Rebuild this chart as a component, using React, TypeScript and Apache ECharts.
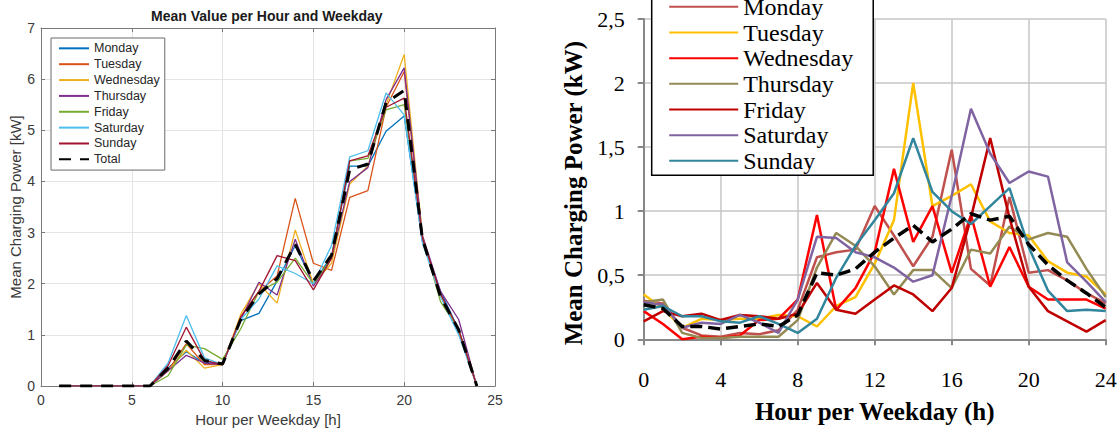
import React, { useEffect, useRef } from "react";
import * as echarts from "echarts";

const dayNames = ["Monday", "Tuesday", "Wednesday", "Thursday", "Friday", "Saturday", "Sunday"];

// Left chart (hours 1..24)
const leftHours = [1, 2, 3, 4, 5, 6, 7, 8, 9, 10, 11, 12, 13, 14, 15, 16, 17, 18, 19, 20, 21, 22, 23, 24];
const leftMonday = [0, 0, 0, 0, 0, 0, 0.35, 0.67, 0.45, 0.45, 1.28, 1.42, 2.05, 2.75, 2.0, 2.55, 4.3, 4.3, 4.98, 5.28, 2.84, 1.85, 1.1, 0];
const leftTuesday = [0, 0, 0, 0, 0, 0, 0.3, 0.83, 0.42, 0.42, 1.35, 1.85, 2.15, 3.67, 2.4, 2.26, 3.69, 3.82, 5.45, 6.15, 2.9, 1.8, 1.05, 0];
const leftWednesday = [0, 0, 0, 0, 0, 0, 0.3, 0.7, 0.35, 0.42, 1.4, 2.0, 1.62, 3.05, 2.0, 2.4, 3.95, 4.3, 5.5, 6.48, 2.95, 1.75, 1.1, 0];
const leftThursday = [0, 0, 0, 0, 0, 0, 0.3, 0.6, 0.45, 0.42, 1.3, 2.03, 1.78, 2.87, 1.95, 2.5, 4.0, 4.27, 5.6, 6.22, 2.95, 1.85, 1.3, 0];
const leftFriday = [0, 0, 0, 0, 0, 0, 0.2, 0.8, 0.73, 0.52, 1.12, 1.85, 2.03, 2.5, 2.0, 2.5, 4.4, 4.45, 5.4, 5.5, 2.9, 1.65, 1.1, 0];
const leftSaturday = [0, 0, 0, 0, 0, 0, 0.45, 1.38, 0.55, 0.42, 1.3, 1.7, 2.35, 2.2, 2.0, 2.75, 4.48, 4.6, 5.73, 5.3, 2.8, 1.75, 1.0, 0];
const leftSunday = [0, 0, 0, 0, 0, 0, 0.4, 1.15, 0.5, 0.42, 1.35, 1.85, 2.55, 2.45, 1.88, 2.5, 4.4, 4.5, 5.45, 5.63, 2.9, 1.8, 1.1, 0];
const leftTotal = [0, 0, 0, 0, 0, 0, 0.35, 0.88, 0.5, 0.43, 1.3, 1.8, 2.1, 2.77, 2.05, 2.56, 4.23, 4.34, 5.54, 5.78, 2.88, 1.75, 1.1, 0];

// Right chart (hours 0..24)
const rightHours = [0, 1, 2, 3, 4, 5, 6, 7, 8, 9, 10, 11, 12, 13, 14, 15, 16, 17, 18, 19, 20, 21, 22, 23, 24];
const rightMonday = [0.3, 0.28, 0.09, 0.03, 0.02, 0.05, 0.04, 0.07, 0.23, 0.64, 0.68, 0.7, 1.04, 0.81, 0.57, 0.8, 1.48, 0.55, 0.42, 1.11, 0.52, 0.54, 0.46, 0.36, 0.28];
const rightTuesday = [0.35, 0.24, 0.09, 0.16, 0.15, 0.16, 0.16, 0.19, 0.18, 0.1, 0.26, 0.33, 0.59, 0.93, 2.0, 1.04, 1.12, 1.21, 0.92, 0.83, 0.81, 0.61, 0.52, 0.49, 0.35];
const rightWednesday = [0.22, 0.12, 0.0, 0.02, 0.01, 0.03, 0.15, 0.16, 0.31, 0.97, 0.23, 0.4, 0.68, 1.33, 0.76, 1.04, 0.52, 0.97, 0.41, 0.72, 0.41, 0.31, 0.31, 0.31, 0.24];
const rightThursday = [0.29, 0.31, 0.05, 0.01, 0.01, 0.02, 0.02, 0.02, 0.15, 0.56, 0.83, 0.73, 0.57, 0.35, 0.54, 0.54, 0.4, 0.7, 0.67, 0.88, 0.78, 0.83, 0.8, 0.55, 0.33];
const rightFriday = [0.14, 0.22, 0.18, 0.2, 0.15, 0.19, 0.18, 0.16, 0.2, 0.44, 0.23, 0.2, 0.31, 0.42, 0.35, 0.22, 0.4, 0.95, 1.57, 0.95, 0.41, 0.22, 0.14, 0.06, 0.15];
const rightSaturday = [0.29, 0.27, 0.09, 0.13, 0.12, 0.19, 0.13, 0.05, 0.31, 0.8, 0.79, 0.68, 0.64, 0.56, 0.45, 0.5, 1.12, 1.8, 1.45, 1.22, 1.31, 1.27, 0.6, 0.45, 0.29];
const rightSunday = [0.23, 0.26, 0.18, 0.18, 0.14, 0.13, 0.18, 0.12, 0.05, 0.16, 0.48, 0.73, 0.93, 1.14, 1.57, 1.15, 1.0, 0.9, 1.04, 1.18, 0.72, 0.38, 0.22, 0.23, 0.22];
const rightTotal = [0.27, 0.24, 0.1, 0.1, 0.08, 0.1, 0.12, 0.1, 0.19, 0.52, 0.5, 0.55, 0.68, 0.79, 0.89, 0.76, 0.86, 0.98, 0.93, 0.96, 0.74, 0.58, 0.46, 0.36, 0.25];

const leftValues = [leftMonday, leftTuesday, leftWednesday, leftThursday, leftFriday, leftSaturday, leftSunday];
const rightValues = [rightMonday, rightTuesday, rightWednesday, rightThursday, rightFriday, rightSaturday, rightSunday];

const leftColors = ["#0072BD", "#D95319", "#EDB120", "#7E2F8E", "#77AC30", "#4DBEEE", "#A2142F"];
const rightColors = ["#C0504D", "#FFC000", "#FF0000", "#948A54", "#C00000", "#8064A2", "#31859C"];

const SANS = "'Liberation Sans', Arial, sans-serif";
const SERIF = "'Liberation Serif', 'Times New Roman', serif";
const R = "R:";

function pairs(xs: number[], ys: number[]) {
  return xs.map((x, i) => [x, ys[i]]);
}

export default function App() {
  const ref = useRef<HTMLDivElement>(null);
  useEffect(() => {
    if (!ref.current) return;
    const chart = echarts.init(ref.current, undefined, { renderer: "svg" });
    const leftAxisColor = "#7a7a7a";
    const rightAxisColor = "#888888";
    const hiddenSymbol = { color: "rgba(0,0,0,0)", borderWidth: 0, opacity: 0 };

    const series: any[] = [];
    dayNames.forEach((d, i) => {
      series.push({
        type: "line",
        name: d,
        xAxisIndex: 0,
        yAxisIndex: 0,
        data: pairs(leftHours, leftValues[i]),
        symbol: "none",
        lineStyle: { width: 1.3, color: leftColors[i] },
        itemStyle: { color: leftColors[i] },
      });
    });
    series.push({
      type: "line",
      name: "Total",
      xAxisIndex: 0,
      yAxisIndex: 0,
      data: pairs(leftHours, leftTotal),
      symbol: "none",
      lineStyle: { width: 3, color: "#000", type: [12, 9] },
      itemStyle: { color: "#000" },
    });
    dayNames.forEach((d, i) => {
      series.push({
        type: "line",
        name: R + d,
        xAxisIndex: 2,
        yAxisIndex: 2,
        data: pairs(rightHours, rightValues[i]),
        symbol: "none",
        lineStyle: { width: 2.5, color: rightColors[i] },
        itemStyle: { color: rightColors[i] },
      });
    });
    series.push({
      type: "line",
      name: R + "Total",
      xAxisIndex: 2,
      yAxisIndex: 2,
      data: pairs(rightHours, rightTotal),
      symbol: "none",
      lineStyle: { width: 3.5, color: "#000", type: [12, 6] },
      itemStyle: { color: "#000" },
    });

    chart.setOption({
      animation: false,
      backgroundColor: "#fff",
      title: {
        text: "Mean Value per Hour and Weekday",
        left: 151,
        top: 9,
        padding: 0,
        textStyle: { fontFamily: SANS, fontSize: 14, fontWeight: "bold", color: "#1a1a1a" },
      },
      grid: [
        { left: 41, top: 28, width: 454, height: 358 },
        { left: 643.7, top: 19, width: 462, height: 320.3 },
      ],
      legend: [
        {
          data: [...dayNames, "Total"],
          orient: "vertical",
          left: 51,
          top: 38,
          padding: [2.4, 5, 2.8, 7],
          itemWidth: 30,
          itemHeight: 10,
          itemGap: 0,
          itemStyle: hiddenSymbol,
          borderColor: "#6a6a6a",
          borderWidth: 1,
          backgroundColor: "#fff",
          textStyle: { fontFamily: SANS, fontSize: 12.5, color: "#262626", lineHeight: 15.86 },
        },
        {
          data: dayNames.map((d) => R + d),
          formatter: (n: string) => n.slice(R.length),
          orient: "vertical",
          left: 651.7,
          top: -11.5,
          padding: [5.5, 20, 1.6, 16.5],
          itemWidth: 69,
          itemHeight: 12,
          itemGap: 0,
          itemStyle: hiddenSymbol,
          borderColor: "#000",
          borderWidth: 1.5,
          backgroundColor: "#fff",
          textStyle: { fontFamily: SERIF, fontSize: 24, color: "#000", lineHeight: 25.67 },
        },
      ],
      xAxis: [
        {
          gridIndex: 0,
          type: "value",
          min: 0,
          max: 25,
          interval: 5,
          position: "bottom",
          axisLine: { show: true, onZero: false, lineStyle: { color: leftAxisColor, width: 1 } },
          axisTick: { show: true, inside: true, length: 4, lineStyle: { color: leftAxisColor } },
          axisLabel: { fontFamily: SANS, fontSize: 14, color: "#3a3a3a", margin: 7 },
          splitLine: { show: true, lineStyle: { color: "#e4e4e4", width: 1 } },
          name: "Hour per Weekday [h]",
          nameLocation: "middle",
          nameGap: 24.5,
          nameTextStyle: { fontFamily: SANS, fontSize: 15, color: "#3a3a3a" },
        },
        {
          gridIndex: 0,
          type: "value",
          min: 0,
          max: 25,
          interval: 5,
          position: "top",
          axisLine: { show: true, onZero: false, lineStyle: { color: leftAxisColor, width: 1 } },
          axisTick: { show: true, inside: true, length: 4, lineStyle: { color: leftAxisColor } },
          axisLabel: { show: false },
          splitLine: { show: false },
        },
        {
          gridIndex: 1,
          type: "value",
          min: 0,
          max: 24,
          interval: 4,
          position: "bottom",
          axisLine: { show: true, onZero: false, lineStyle: { color: rightAxisColor, width: 2 } },
          axisTick: { show: true, inside: false, length: 6, lineStyle: { color: rightAxisColor, width: 2 } },
          axisLabel: { fontFamily: SERIF, fontSize: 22, color: "#000", margin: 29 },
          splitLine: { show: true, lineStyle: { color: "#c6c6c6", width: 1.5 } },
          name: "Hour per Weekday (h)",
          nameLocation: "middle",
          nameGap: 60,
          nameTextStyle: { fontFamily: SERIF, fontSize: 25, fontWeight: "bold", color: "#000" },
        },
      ],
      yAxis: [
        {
          gridIndex: 0,
          type: "value",
          min: 0,
          max: 7,
          interval: 1,
          position: "left",
          axisLine: { show: true, onZero: false, lineStyle: { color: leftAxisColor, width: 1 } },
          axisTick: { show: true, inside: true, length: 4, lineStyle: { color: leftAxisColor } },
          axisLabel: { fontFamily: SANS, fontSize: 14, color: "#3a3a3a", margin: 6 },
          splitLine: { show: true, lineStyle: { color: "#e4e4e4", width: 1 } },
          name: "Mean Charging Power [kW]",
          nameLocation: "middle",
          nameGap: 18,
          nameTextStyle: { fontFamily: SANS, fontSize: 15, color: "#3a3a3a" },
        },
        {
          gridIndex: 0,
          type: "value",
          min: 0,
          max: 7,
          interval: 1,
          position: "right",
          axisLine: { show: true, onZero: false, lineStyle: { color: leftAxisColor, width: 1 } },
          axisTick: { show: true, inside: true, length: 4, lineStyle: { color: leftAxisColor } },
          axisLabel: { show: false },
          splitLine: { show: false },
        },
        {
          gridIndex: 1,
          type: "value",
          min: 0,
          max: 2.5,
          interval: 0.5,
          position: "left",
          axisLine: { show: true, onZero: false, lineStyle: { color: rightAxisColor, width: 2 } },
          axisTick: { show: true, inside: false, length: 6, lineStyle: { color: rightAxisColor, width: 2 } },
          axisLabel: {
            fontFamily: SERIF,
            fontSize: 22,
            color: "#000",
            margin: 19,
            formatter: (v: number) => String(v).replace(".", ","),
          },
          splitLine: { show: true, lineStyle: { color: "#c6c6c6", width: 1.5 } },
          name: "Mean Charging Power (kW)",
          nameLocation: "middle",
          nameGap: 58,
          nameTextStyle: { fontFamily: SERIF, fontSize: 25, fontWeight: "bold", color: "#000", padding: [0, 28, 0, 0] },
        },
      ],
      series,
    });
    return () => chart.dispose();
  }, []);
  return <div ref={ref} style={{ position: "fixed", left: 0, top: 0, width: 1120, height: 432 }} />;
}
